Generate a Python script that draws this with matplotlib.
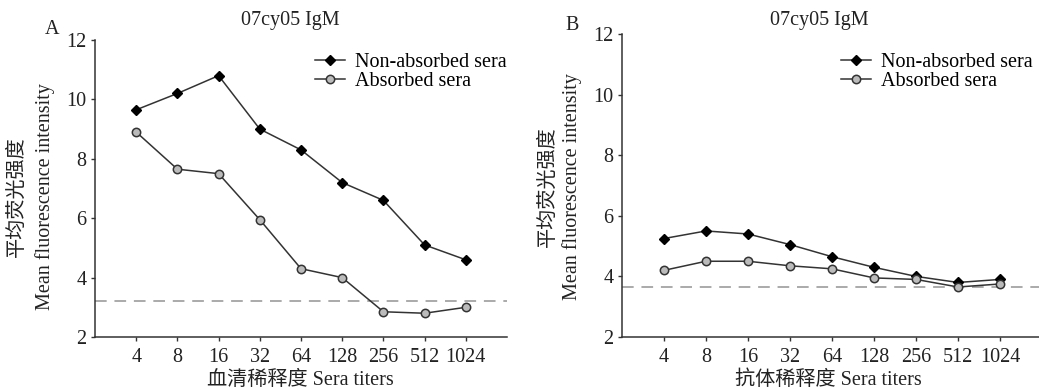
import matplotlib
matplotlib.use("Agg")
import matplotlib.pyplot as plt

plt.rcParams['font.family'] = ['Liberation Serif', 'Noto Sans CJK SC', 'DejaVu Sans']

titers = ["4", "8", "16", "32", "64", "128", "256", "512", "1024"]
a_non = [9.65, 10.2, 10.8, 9.0, 8.3, 7.2, 6.6, 5.1, 4.6]
a_abs = [8.9, 7.65, 7.5, 5.95, 4.3, 4.0, 2.85, 2.8, 3.0]
a_cut = 3.2
b_non = [5.25, 5.5, 5.4, 5.05, 4.65, 4.3, 4.0, 3.8, 3.9]
b_abs = [4.2, 4.5, 4.5, 4.35, 4.25, 3.95, 3.9, 3.65, 3.75]
b_cut = 3.65
title = "07cy05 IgM"
ylab_cn = "平均荧光强度"
ylab_en = "Mean fluorescence intensity"
xlab_a = "血清稀释度 Sera titers"
xlab_b = "抗体稀释度 Sera titers"

W, H = 1039, 390
FS = 14.5
fig = plt.figure(figsize=(W/100, H/100), dpi=100)

def px(x0, y_top, x1, y_bot):
    return [x0/W, 1 - y_bot/H, (x1-x0)/W, (y_bot-y_top)/H]

axA = fig.add_axes(px(95, 40, 507, 337))
axB = fig.add_axes(px(622, 34, 1042, 337))

def draw(ax, non, ab, cut, leg_xy):
    x = list(range(len(titers)))
    ax.axhline(cut, color='#aaaaaa', lw=1.4, ls=(0, (6, 4)), zorder=1)
    ax.plot(x, non, color='#333333', lw=1.1, marker='D', ms=5.2, mfc='black', mec='black',
            label='Non-absorbed sera', zorder=3)
    ax.plot(x, ab, color='#333333', lw=1.1, marker='o', ms=6, mfc='#bbbbbb', mec='#333333',
            mew=1.1, label='Absorbed sera', zorder=3)
    ax.set_xlim(-1, 9)
    ax.set_ylim(2, 12)
    ax.set_xticks(x)
    ax.set_xticklabels(titers)
    ax.set_yticks([2, 4, 6, 8, 10, 12])
    for s in ['top', 'right']:
        ax.spines[s].set_visible(False)
    for s in ['left', 'bottom']:
        ax.spines[s].set_color('#333333')
        ax.spines[s].set_linewidth(1.1)
    ax.tick_params(direction='out', length=3, width=1, colors='#333333', labelsize=FS,
                   labelcolor='#222222', pad=3)
    ax.tick_params(axis='x', pad=5)
    ax.legend(loc='upper left', frameon=False, fontsize=FS, handlelength=1.5,
              handletextpad=0.5, labelspacing=0.0, borderpad=0, borderaxespad=0,
              bbox_to_anchor=(leg_xy[0]/W, 1 - leg_xy[1]/H), bbox_transform=fig.transFigure)

draw(axA, a_non, a_abs, a_cut, (315, 53))
draw(axB, b_non, b_abs, b_cut, (841, 53))

def t(x, y, s, **kw):
    fig.text(x/W, 1 - y/H, s, ha='center', va='center', color='#222222', **kw)

t(290, 21, title, fontsize=FS)
t(819, 21, title, fontsize=FS)
t(52, 29, "A", fontsize=FS)
t(572, 25, "B", fontsize=FS)
t(17, 197, ylab_cn, fontsize=FS, rotation=90)
t(45, 197, ylab_en, fontsize=FS, rotation=90)
t(548, 187, ylab_cn, fontsize=FS, rotation=90)
t(572, 187, ylab_en, fontsize=FS, rotation=90)
t(300, 380, xlab_a, fontsize=FS)
t(828, 380, xlab_b, fontsize=FS)

fig.savefig("out.png", dpi=100, facecolor='white')
